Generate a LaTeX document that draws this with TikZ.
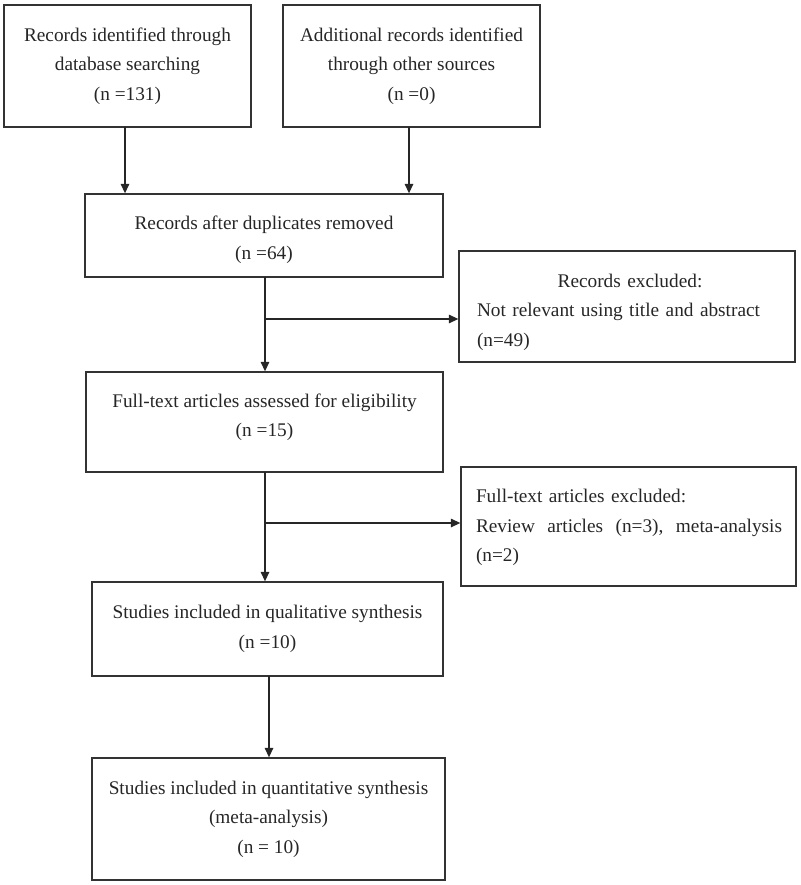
\documentclass[tikz,border=0pt]{standalone}
\usepackage{fontspec}
\setmainfont{Liberation Serif}
\usetikzlibrary{arrows.meta}
\begin{document}
\begin{tikzpicture}[x=1pt,y=-1pt,
  every node/.style={font=\fontsize{19.3}{29.5}\selectfont, text=black!85},
  box/.style={draw=black!80, line width=1.3pt, rectangle, inner sep=0pt, align=center},
  txt/.style={inner sep=0pt, align=center},
  extxt/.style={inner sep=0pt, text width=306pt, align=left},
  arr/.style={draw=black!85, line width=1.3pt, -{Triangle[width=8.5pt,length=9.5pt]}}]
\useasboundingbox (0,0) rectangle (800,885);
% boxes
\node[box, minimum width=247pt, minimum height=122pt] (box1) at (127.5,66)
  {Records identified through\\database searching\\(n =131)};
\node[box, minimum width=257pt, minimum height=122pt] (box2) at (411.5,66)
  {Additional records identified\\through other sources\\(n =0)};
\node[box, minimum width=358pt, minimum height=83pt] (box3) at (264,235.5) {};
\node[txt] (box3t) at (264,240)
  {Records after duplicates removed\\(n =64)};
\node[box, minimum width=336pt, minimum height=111pt] (excl1) at (627,306.5) {};
\node[extxt] (excl1t) at (630,312)
  {\makebox[\hsize][c]{Records excluded:}\\Not relevant using title and abstract\\(n=49)};
\node[box, minimum width=357pt, minimum height=100pt] (box4) at (264.5,422) {};
\node[txt] (box4t) at (264.5,417.5)
  {Full-text articles assessed for eligibility\\(n =15)};
\node[box, minimum width=335pt, minimum height=119pt] (excl2) at (628.5,526.5) {};
\node[extxt] (excl2t) at (629,527.5)
  {Full-text articles excluded:\\Review\hfill articles\hfill (n=3),\hfill meta-analysis\\(n=2)};
\node[box, minimum width=351pt, minimum height=94pt] (box5) at (267.5,629)
  {Studies included in qualitative synthesis\\(n =10)};
\node[box, minimum width=353pt, minimum height=122pt] (box6) at (268.5,819)
  {Studies included in quantitative synthesis\\(meta-analysis)\\(n = 10)};
% connectors
\coordinate (a1) at (125,127);
\coordinate (a2) at (409,127);
\coordinate (c3) at (265,277);
\coordinate (c4) at (265,472);
\coordinate (c5) at (269,676);
\coordinate (b1) at (265,319);
\coordinate (b2) at (265,523);
\draw[arr] (a1) -- (a1 |- box3.north);
\draw[arr] (a2) -- (a2 |- box3.north);
\draw[arr] (c3) -- (c3 |- box4.north);
\draw[arr] (b1) -- (b1 -| excl1.west);
\draw[arr] (c4) -- (c4 |- box5.north);
\draw[arr] (b2) -- (b2 -| excl2.west);
\draw[arr] (c5) -- (c5 |- box6.north);
\end{tikzpicture}
\end{document}
